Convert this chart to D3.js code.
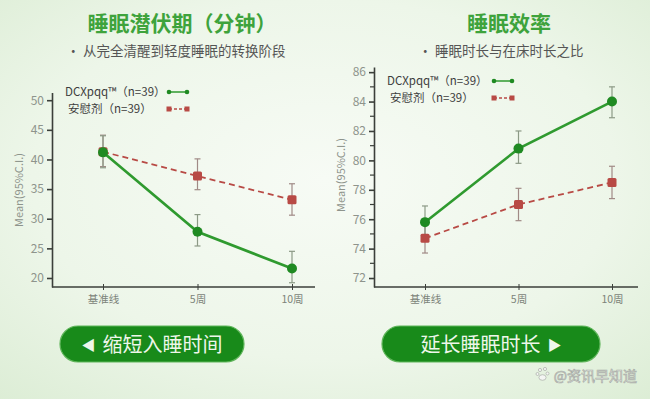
<!DOCTYPE html>
<html>
<head>
<meta charset="utf-8">
<script src="https://cdn.jsdelivr.net/npm/d3@7"></script>
<style>
  html, body { margin: 0; padding: 0; }
  body { width: 650px; height: 399px; overflow: hidden; }
  text { font-family: "Noto Sans CJK SC", "Noto Sans", sans-serif; }
</style>
</head>
<body>
<svg id="chart" width="650" height="399"></svg>
<script>
// categories and values
const weeks = ["基准线", "5周", "10周"];

const latencyDcx = [41.2, 27.8, 21.6];
const latencyDcxLo = [38.6, 25.4, 19.2];
const latencyDcxHi = [44.0, 30.7, 24.5];
const latencyPbo = [41.3, 37.2, 33.2];
const latencyPboLo = [38.8, 34.9, 30.6];
const latencyPboHi = [44.1, 40.1, 35.9];

const effDcx = [75.8, 80.8, 84.0];
const effDcxLo = [74.8, 79.8, 82.9];
const effDcxHi = [76.9, 82.0, 85.0];
const effPbo = [74.7, 77.0, 78.5];
const effPboLo = [73.7, 75.9, 77.4];
const effPboHi = [75.7, 78.1, 79.6];

const latencyTicks = [20, 25, 30, 35, 40, 45, 50];
const effTicks = [72, 74, 76, 78, 80, 82, 84, 86];
const effMinor = [73, 75, 77, 79, 81, 83, 85];

const seriesNames = ["DCXpqq™（n=39）", "安慰剂（n=39）"];

const green = "#2f9a2f";
const greenDot = "#1f8a22";
const red = "#b84a45";
const barColor = "#8c9a86";

const svg = d3.select("#chart");

// background
const defs = svg.append("defs");
const bg = defs.append("radialGradient").attr("id", "bg")
  .attr("cx", "50%").attr("cy", "45%").attr("r", "75%");
bg.append("stop").attr("offset", "0").attr("stop-color", "#f7fbf5");
bg.append("stop").attr("offset", "0.6").attr("stop-color", "#edf6e9");
bg.append("stop").attr("offset", "1").attr("stop-color", "#dcedd5");
svg.append("rect").attr("width", 650).attr("height", 399).attr("fill", "url(#bg)");

const construct = (cfg) => {
  const g = svg.append("g");

  g.append("text")
    .attr("x", cfg.titleX).attr("y", 31)
    .attr("text-anchor", "middle")
    .attr("font-size", 21).attr("font-weight", "bold")
    .attr("fill", "#3ea33c")
    .text(cfg.title);

  g.append("text")
    .attr("x", cfg.subX).attr("y", 56)
    .attr("text-anchor", "middle")
    .attr("font-size", 13.5)
    .attr("fill", "#555")
    .text("• " + cfg.sub);

  const x = d3.scalePoint()
    .domain(weeks)
    .range([cfg.left + 51, cfg.right - cfg.rightGap]);

  const y = d3.scaleLinear()
    .domain(cfg.yDomain)
    .range([287, cfg.top]);

  // y axis
  const yAxis = d3.axisLeft(y).tickValues(cfg.ticks).tickSize(5).tickPadding(3).tickSizeOuter(0);
  const ya = g.append("g").attr("transform", `translate(${cfg.left},0)`).call(yAxis);
  ya.select(".domain").attr("stroke", "#3b3f3a").attr("stroke-width", 1.6);
  ya.selectAll(".tick line").attr("stroke", "#3b3f3a").attr("stroke-width", 1.6);
  ya.selectAll(".tick text").attr("fill", "#8e948c").attr("font-size", 12)
    .attr("font-family", "\"Open Sans\", sans-serif");

  if (cfg.minor) {
    g.selectAll(".minor")
      .data(cfg.minor)
      .join("line")
      .attr("x1", cfg.left - 4).attr("x2", cfg.left)
      .attr("y1", (d) => y(d)).attr("y2", (d) => y(d))
      .attr("stroke", "#3b3f3a").attr("stroke-width", 1.2);
  }

  // x axis
  const xAxis = d3.axisBottom(x).tickSize(3).tickPadding(6).tickSizeOuter(0);
  const xa = g.append("g").attr("transform", "translate(0,287)").call(xAxis);
  xa.select(".domain").attr("d", `M${cfg.left},0H${cfg.right}`)
    .attr("stroke", "#3b3f3a").attr("stroke-width", 1.6);
  xa.selectAll(".tick line").attr("y1", -3).attr("stroke", "#3b3f3a");
  xa.selectAll(".tick text").attr("fill", "#7c8379").attr("font-size", 10.5);

  g.append("text")
    .attr("transform", `translate(${cfg.left - 29},${cfg.yTitleY}) rotate(-90)`)
    .attr("text-anchor", "middle")
    .attr("font-size", 11)
    .attr("fill", "#8e948c")
    .text("Mean(95%C.I.)");

  const line = d3.line().x((d, i) => x(weeks[i])).y((d) => y(d));

  // error bars
  const bars = (lo, hi, color) => {
    weeks.forEach((w, i) => {
      const cx = x(w);
      g.append("line").attr("x1", cx).attr("x2", cx)
        .attr("y1", y(lo[i])).attr("y2", y(hi[i]))
        .attr("stroke", color).attr("stroke-width", 1.2);
      [lo[i], hi[i]].forEach((v) => {
        g.append("line").attr("x1", cx - 3).attr("x2", cx + 3)
          .attr("y1", y(v)).attr("y2", y(v))
          .attr("stroke", color).attr("stroke-width", 1.2);
      });
    });
  };
  bars(cfg.pboLo, cfg.pboHi, "#a08a86");
  bars(cfg.dcxLo, cfg.dcxHi, barColor);

  g.append("path").datum(cfg.pbo)
    .attr("d", line)
    .attr("fill", "none").attr("stroke", red)
    .attr("stroke-width", 1.8).attr("stroke-dasharray", "6,4");
  g.selectAll(".pbo")
    .data(cfg.pbo)
    .join("rect")
    .attr("x", (d, i) => x(weeks[i]) - 4.5).attr("y", (d) => y(d) - 4.5)
    .attr("width", 9).attr("height", 9).attr("rx", 1.5)
    .attr("fill", red);

  g.append("path").datum(cfg.dcx)
    .attr("d", line)
    .attr("fill", "none").attr("stroke", green)
    .attr("stroke-width", 2.6);
  g.selectAll(".dcx")
    .data(cfg.dcx)
    .join("circle")
    .attr("cx", (d, i) => x(weeks[i])).attr("cy", (d) => y(d))
    .attr("r", 5)
    .attr("fill", greenDot);

  // legend
  const lg = g.append("g").attr("transform", `translate(${cfg.left + 13},${cfg.legY})`);
  lg.append("text").attr("x", 0).attr("y", 0)
    .attr("font-size", 11.5).attr("fill", "#3d3d3d").text(seriesNames[0]);
  lg.append("text").attr("x", 3).attr("y", 17)
    .attr("font-size", 11.5).attr("fill", "#3d3d3d").text(seriesNames[1]);
  const sx = cfg.legSym;
  lg.append("line").attr("x1", sx).attr("x2", sx + 18).attr("y1", -4).attr("y2", -4)
    .attr("stroke", green).attr("stroke-width", 1.5);
  [sx, sx + 18].forEach((v) => lg.append("circle").attr("cx", v).attr("cy", -4).attr("r", 2.3).attr("fill", greenDot));
  lg.append("line").attr("x1", sx).attr("x2", sx + 18).attr("y1", 13).attr("y2", 13)
    .attr("stroke", red).attr("stroke-width", 1.5).attr("stroke-dasharray", "3,2");
  [sx, sx + 18].forEach((v) => lg.append("rect").attr("x", v - 2.5).attr("y", 10.5).attr("width", 5).attr("height", 5).attr("fill", red));
};

construct({
  title: "睡眠潜伏期（分钟）", titleX: 182,
  sub: "从完全清醒到轻度睡眠的转换阶段", subX: 176,
  left: 52, right: 315, rightGap: 23, top: 92.5,
  yDomain: [18.48, 51.3], ticks: latencyTicks, yTitleY: 190,
  dcx: latencyDcx, dcxLo: latencyDcxLo, dcxHi: latencyDcxHi,
  pbo: latencyPbo, pboLo: latencyPboLo, pboHi: latencyPboHi,
  legY: 96, legSym: 104
});

construct({
  title: "睡眠效率", titleX: 509,
  sub: "睡眠时长与在床时长之比", subX: 501,
  left: 374, right: 638, rightGap: 26, top: 67,
  yDomain: [71.39, 86.35], ticks: effTicks, minor: effMinor, yTitleY: 175,
  dcx: effDcx, dcxLo: effDcxLo, dcxHi: effDcxHi,
  pbo: effPbo, pboLo: effPboLo, pboHi: effPboHi,
  legY: 85, legSym: 107
});

// buttons
const buttons = [
  { x: 60, w: 184, pre: "◀", label: "缩短入睡时间", post: "" },
  { x: 382, w: 218, pre: "", label: "延长睡眠时长", post: "▶" }
];
buttons.forEach((b) => {
  svg.append("rect")
    .attr("x", b.x).attr("y", 326).attr("width", b.w).attr("height", 36)
    .attr("rx", 18)
    .attr("fill", "#188a1a").attr("stroke", "#5fb55a").attr("stroke-width", 1.2);
  const t = svg.append("text")
    .attr("x", b.x + b.w / 2).attr("y", 351.5)
    .attr("text-anchor", "middle")
    .attr("font-size", 20)
    .attr("fill", "#eef7ea");
  t.append("tspan").attr("font-size", 14).attr("dy", -2).text(b.pre);
  t.append("tspan").attr("dx", b.pre ? 7 : 0).attr("dy", b.pre ? 2 : 0).text(b.label);
  t.append("tspan").attr("font-size", 14).attr("dx", b.post ? 7 : 0).attr("dy", -2).text(b.post);
});

// watermark
const wm = svg.append("g").attr("fill", "#f4f5f3").attr("stroke", "#a9ada7").attr("stroke-width", 0.7);
[[540, 370, 1.6], [545, 369, 1.6], [537.5, 374, 1.5], [547.5, 373.5, 1.5]].forEach((p) =>
  wm.append("circle").attr("cx", p[0]).attr("cy", p[1]).attr("r", p[2]));
wm.append("ellipse").attr("cx", 542.5).attr("cy", 377.5).attr("rx", 3.6).attr("ry", 2.8);
wm.append("text")
  .attr("x", 637).attr("y", 381)
  .attr("text-anchor", "end")
  .attr("font-size", 14)
  .text("@资讯早知道");
</script>
</body>
</html>
